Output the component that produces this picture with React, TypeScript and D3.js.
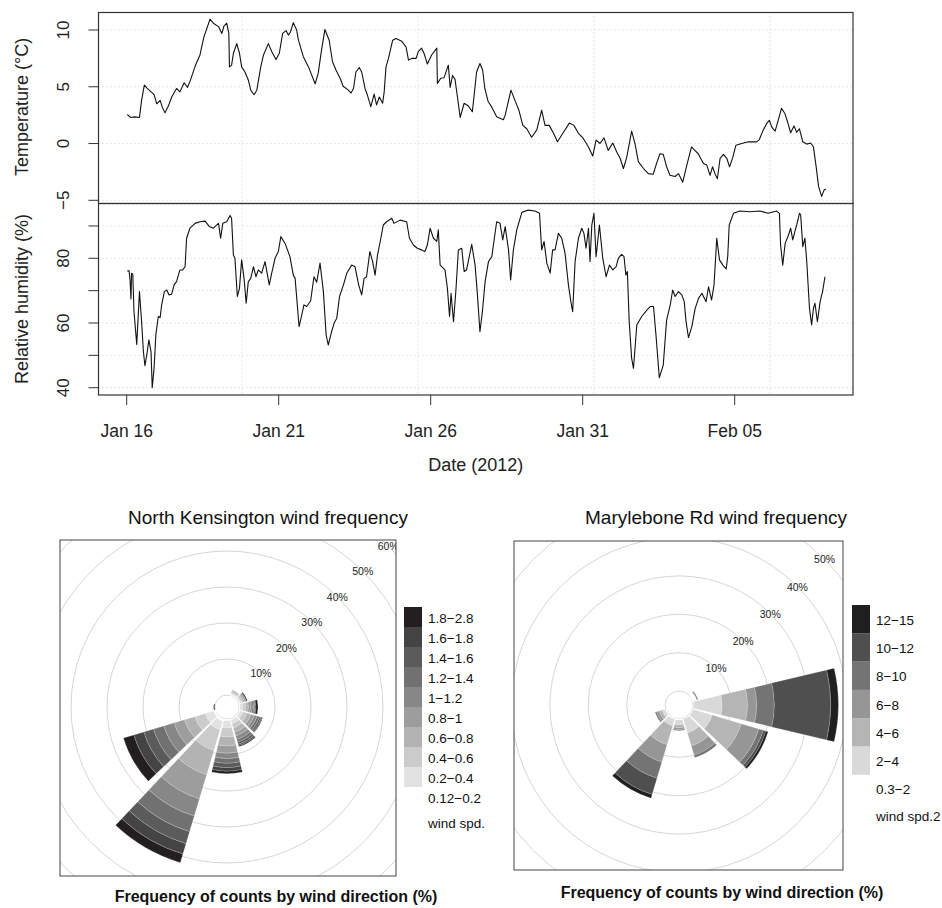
import React from "react";
import * as d3 from "d3";

// hourly series: [days since Jan 16 2012 00:00, value]
const temperature: [number, number][] = [
  [0.02, 2.56], [0.13, 2.3], [0.27, 2.35], [0.42, 2.3], [0.49, 3.8], [0.58, 5.15], [0.66, 4.9], [0.82, 4.5],
  [0.9, 4.3], [0.99, 3.5], [1.1, 3.8], [1.17, 3.2], [1.26, 2.7], [1.37, 3.3], [1.48, 4.1], [1.64, 4.85],
  [1.75, 4.55], [1.89, 5.35], [2.0, 4.95], [2.08, 5.45], [2.25, 6.8], [2.41, 7.8], [2.54, 9.4], [2.74, 10.95],
  [2.85, 10.6], [3.02, 10.3], [3.13, 9.7], [3.2, 10.35], [3.29, 10.6], [3.36, 9.7], [3.38, 6.75], [3.45, 6.9],
  [3.51, 7.95], [3.62, 8.8], [3.71, 7.95], [3.78, 6.75], [3.89, 6.3], [4.0, 5.6], [4.08, 4.7], [4.19, 4.3],
  [4.28, 4.7], [4.41, 6.75], [4.5, 7.8], [4.66, 8.8], [4.77, 8.1], [4.91, 7.4], [5.02, 7.95], [5.13, 9.7],
  [5.24, 9.95], [5.32, 9.55], [5.39, 9.85], [5.48, 10.65], [5.59, 10.0], [5.65, 9.1], [5.81, 7.65], [5.98, 6.75],
  [6.09, 6.0], [6.2, 5.25], [6.3, 6.2], [6.41, 8.25], [6.52, 10.05], [6.66, 9.1], [6.77, 7.2], [6.88, 6.5],
  [7.02, 5.75], [7.12, 5.05], [7.29, 4.7], [7.38, 4.45], [7.46, 4.85], [7.54, 6.3], [7.65, 6.7], [7.73, 6.3],
  [7.84, 4.85], [7.92, 4.25], [8.03, 3.25], [8.14, 4.35], [8.22, 3.4], [8.31, 4.1], [8.42, 3.55], [8.47, 4.55],
  [8.53, 6.75], [8.61, 7.5], [8.75, 9.1], [8.86, 9.25], [9.05, 9.0], [9.19, 8.5], [9.27, 7.35], [9.38, 7.5],
  [9.52, 7.5], [9.59, 8.1], [9.7, 8.4], [9.78, 7.95], [9.89, 7.0], [10.03, 7.8], [10.2, 8.4], [10.22, 5.3],
  [10.33, 5.75], [10.44, 5.8], [10.58, 6.9], [10.64, 4.95], [10.72, 6.0], [10.8, 5.65], [10.88, 4.1], [10.97, 2.3],
  [11.1, 3.55], [11.24, 3.3], [11.37, 2.8], [11.51, 6.3], [11.62, 7.05], [11.71, 6.45], [11.78, 4.85], [11.89, 3.7],
  [12.0, 3.25], [12.17, 2.35], [12.39, 2.1], [12.45, 2.5], [12.64, 4.7], [12.77, 3.8], [12.9, 2.95], [13.03, 1.6],
  [13.16, 1.3], [13.32, 0.55], [13.49, 1.2], [13.65, 2.95], [13.76, 1.6], [13.9, 1.6], [14.04, 0.9], [14.17, 0.15],
  [14.31, 0.75], [14.56, 1.8], [14.71, 1.6], [14.86, 0.9], [15.02, 0.45], [15.19, -0.3], [15.33, -1.1], [15.44, 0.3],
  [15.57, 0.0], [15.7, 0.5], [15.84, -0.6], [15.99, 0.05], [16.12, -0.75], [16.23, -1.3], [16.34, -2.2], [16.45, -1.2],
  [16.61, 1.1], [16.72, 0.0], [16.83, -1.6], [17.0, -2.2], [17.16, -2.65], [17.32, -2.7], [17.43, -1.75], [17.54, -0.9],
  [17.65, -0.95], [17.76, -2.05], [17.87, -2.8], [18.04, -2.9], [18.15, -2.65], [18.29, -3.4], [18.44, -1.75], [18.58, -0.3],
  [18.69, -0.6], [18.8, -0.9], [18.97, -1.75], [19.08, -1.9], [19.19, -2.8], [19.27, -2.05], [19.35, -2.65], [19.43, -3.1],
  [19.52, -1.3], [19.63, -0.95], [19.74, -1.3], [19.83, -2.05], [19.94, -1.2], [20.04, -0.15], [20.23, 0.0], [20.45, 0.15],
  [20.72, 0.15], [20.81, 0.35], [20.94, 1.2], [21.05, 1.75], [21.14, 2.05], [21.22, 1.45], [21.33, 1.1], [21.4, 1.75],
  [21.54, 3.1], [21.65, 2.65], [21.74, 1.9], [21.84, 0.95], [21.95, 1.55], [22.04, 1.0], [22.13, 1.3], [22.24, 0.15],
  [22.37, -0.05], [22.5, 0.05], [22.59, -0.3], [22.68, -2.05], [22.76, -3.8], [22.86, -4.65], [22.94, -4.1], [23.0, -4.0],
];

const humidity: [number, number][] = [
  [0.02, 76.1], [0.08, 76.1], [0.11, 73.3], [0.14, 67.4], [0.16, 75.4], [0.2, 75.1], [0.24, 63.5], [0.33, 53.4],
  [0.42, 69.7], [0.49, 60.4], [0.55, 51.1], [0.6, 46.8], [0.66, 50.1], [0.73, 54.8], [0.8, 51.1], [0.84, 40.0],
  [0.9, 46], [0.96, 56.5], [1.04, 62], [1.1, 61.7], [1.15, 65.6], [1.24, 69.7], [1.32, 70.2], [1.39, 68.7],
  [1.48, 68.9], [1.56, 71.8], [1.64, 72.8], [1.75, 76.4], [1.84, 76.4], [1.92, 77.4], [1.97, 86.2], [2.08, 89.3],
  [2.25, 90.8], [2.41, 91.3], [2.58, 91.5], [2.72, 89.8], [2.85, 89.3], [3.02, 90.8], [3.09, 86.2], [3.16, 90.8],
  [3.29, 91.3], [3.4, 93.2], [3.45, 92.4], [3.51, 81.0], [3.56, 80], [3.64, 68.2], [3.71, 70.7], [3.78, 79.5],
  [3.86, 73.8], [3.93, 66.1], [4.0, 72.8], [4.08, 73.8], [4.17, 77.4], [4.25, 74.3], [4.33, 76.4], [4.44, 75.4],
  [4.55, 79], [4.69, 71.8], [4.77, 75.4], [4.88, 80], [4.99, 82.1], [5.07, 86.7], [5.21, 84.6], [5.37, 80.5],
  [5.48, 74.8], [5.54, 73.8], [5.67, 58.9], [5.76, 62.5], [5.83, 65.6], [5.92, 65.1], [6.05, 66.8], [6.16, 74.3],
  [6.25, 72.6], [6.36, 78.5], [6.47, 69.7], [6.56, 56.3], [6.63, 53.2], [6.74, 57.3], [6.82, 59.9], [6.91, 61.5],
  [7.0, 68.2], [7.13, 71.8], [7.24, 75.4], [7.4, 77.9], [7.51, 77.4], [7.63, 71.8], [7.73, 68.7], [7.81, 73.8],
  [7.89, 74.3], [8.0, 82.1], [8.09, 79], [8.17, 74.8], [8.25, 81], [8.36, 86.2], [8.44, 90.3], [8.55, 91.3],
  [8.72, 92.4], [8.79, 90.8], [8.99, 91.8], [9.21, 91.3], [9.3, 86.2], [9.43, 84.1], [9.56, 83.1], [9.7, 82.6],
  [9.81, 82.1], [9.89, 84.1], [9.98, 89.3], [10.09, 86.2], [10.2, 85.2], [10.25, 88.8], [10.31, 77.9], [10.47, 76.4],
  [10.55, 70.7], [10.62, 62], [10.67, 69.2], [10.75, 60.4], [10.83, 70.2], [10.91, 82.6], [11.02, 83.1], [11.1, 75.9],
  [11.18, 76.4], [11.35, 84.3], [11.46, 77.9], [11.53, 69.7], [11.62, 57.3], [11.7, 63.5], [11.79, 72.8], [11.9, 79],
  [12.01, 80.5], [12.17, 91.3], [12.28, 90.8], [12.37, 85.7], [12.45, 89.8], [12.56, 82.6], [12.63, 73.3], [12.72, 82.6],
  [12.83, 88.8], [13.0, 94.2], [13.21, 94.9], [13.43, 94.6], [13.58, 93.9], [13.65, 82.6], [13.73, 85.2], [13.82, 78.5],
  [13.93, 75.4], [14.01, 82.6], [14.09, 82.6], [14.2, 87.7], [14.31, 86.2], [14.42, 81.5], [14.53, 71.8], [14.61, 66.6],
  [14.67, 63.5], [14.75, 79], [14.86, 86.2], [14.97, 89.3], [15.04, 87.7], [15.11, 83.1], [15.19, 89.3], [15.24, 79],
  [15.3, 90.3], [15.37, 93.9], [15.44, 80.5], [15.55, 90.3], [15.66, 80], [15.77, 74.3], [15.88, 77.9], [15.99, 76.4],
  [16.1, 77.4], [16.17, 80], [16.28, 81.2], [16.36, 80.5], [16.42, 74.8], [16.47, 75.9], [16.53, 60.4], [16.61, 49.1],
  [16.67, 46], [16.78, 59.4], [16.94, 62], [17.11, 64], [17.22, 65.1], [17.33, 65.1], [17.41, 56.3], [17.52, 43.1],
  [17.65, 47], [17.76, 60.9], [17.88, 65.6], [17.96, 70.2], [18.04, 68.2], [18.15, 69.7], [18.26, 68.7], [18.34, 66.6],
  [18.4, 60.4], [18.48, 55.5], [18.59, 58.9], [18.7, 64.5], [18.81, 67.6], [18.92, 69.2], [19.06, 66.6], [19.14, 71.2],
  [19.24, 67.1], [19.32, 71.8], [19.41, 86.2], [19.5, 79.5], [19.61, 77.9], [19.72, 76.7], [19.77, 80.5], [19.82, 90.3],
  [19.96, 93.9], [20.17, 94.6], [20.5, 94.4], [20.83, 94.6], [21.1, 93.9], [21.38, 94.6], [21.47, 93.9], [21.51, 84.1],
  [21.58, 77.9], [21.66, 84.6], [21.77, 87.2], [21.84, 89.3], [21.91, 85.7], [21.98, 88.3], [22.04, 90.3], [22.13, 93.9],
  [22.17, 93.4], [22.24, 83.6], [22.31, 86.2], [22.37, 79], [22.46, 64.5], [22.53, 59.4], [22.59, 64.5], [22.64, 66.1],
  [22.72, 60.4], [22.81, 66.6], [22.89, 69.7], [22.97, 74.3],
];

const dateTicks = [0, 5, 10, 15, 20];
const dateLabels = ["Jan 16", "Jan 21", "Jan 26", "Jan 31", "Feb 05"];
// R's grid() lands on round epoch seconds, not on the date ticks
const startSeconds = 1326672000;
const gridSeconds = [1327000000, 1327500000, 1328000000, 1328500000];
const tempTicks = [-5, 0, 5, 10];
const rhTicks = [40, 50, 60, 70, 80, 90];
const rhLabels = [40, 60, 80];

// wind roses: % of counts per 30 degree sector, split by speed class (low -> high)
const nkDirs = [30, 60, 90, 120, 150, 180, 210, 240, 270];
const nkBins = ["0.12\u22120.2", "0.2\u22120.4", "0.4\u22120.6", "0.6\u22120.8", "0.8\u22121", "1\u22121.2", "1.2\u22121.4", "1.4\u22121.6", "1.6\u22121.8", "1.8\u22122.8"];
const nkFreq = [
  [0.3, 0.3, 0.3, 0.2, 0.2, 0.1, 0.1, 0, 0, 0],
  [0.3, 0.4, 0.4, 0.3, 0.3, 0.2, 0.2, 0.1, 0.1, 0.3],
  [0.3, 0.8, 0.8, 0.7, 0.6, 0.5, 0.4, 0.3, 0.3, 0.6],
  [0.3, 1.0, 1.2, 1.1, 1.0, 0.8, 0.7, 0.5, 0.3, 0.1],
  [0.3, 1.2, 1.3, 1.2, 1.1, 1.0, 0.8, 0.6, 0.4, 0.3],
  [0.5, 2.0, 2.5, 2.5, 2.0, 1.5, 1.3, 1.2, 1.0, 0.7],
  [0.8, 2.5, 6.0, 7.0, 7.0, 5.0, 4.5, 3.5, 3.0, 2.5],
  [0.5, 2.5, 3.0, 3.0, 3.0, 3.0, 3.0, 2.8, 2.9, 3.0],
  [0.1, 0, 0, 0, 0, 0, 0, 0, 0, 0.3],
];
const nkColors = ["#ffffff", "#e2e2e2", "#cbcbcb", "#b3b3b3", "#9d9d9d", "#878787", "#717171", "#5b5b5b", "#444444", "#231f20"];
const nkRings = [0, 10, 20, 30, 40, 50, 60];

const mrDirs = [60, 90, 120, 150, 180, 210, 240];
const mrBins = ["0.3\u22122", "2\u22124", "4\u22126", "6\u22128", "8\u221210", "10\u221212", "12\u221215"];
const mrFreq = [
  [1.2, 0, 0, 0, 0, 0.2, 0.1],
  [0.2, 7.4, 6.6, 2.4, 4.6, 14.7, 2.0],
  [0.2, 5.2, 7.9, 4.8, 1.2, 0.7, 0.6],
  [0.2, 3.8, 3.5, 2.5, 0.7, 0, 0],
  [0.3, 1.2, 0.8, 0.5, 0.3, 0, 0],
  [0.3, 1.8, 5.1, 4.7, 4.4, 4.4, 1.0],
  [0.2, 0.8, 0.8, 0.7, 0.4, 0, 0],
];
const mrColors = ["#ffffff", "#d9d9d9", "#b5b5b5", "#969696", "#747474", "#4f4f4f", "#1f1f1f"];
const mrRings = [0, 10, 20, 30, 40, 50];

const FONT = "'Liberation Sans', Arial, Helvetica, sans-serif";

// panel geometry
const L = 98.5, R = 853, TOP = 12.5, MID = 203.5, BOT = 395;

const x = d3.scaleLinear().domain([0, 20]).range([126.7, 734.7]);
const yT = d3.scaleLinear().domain([-5, 10]).range([200.3, 30]);
const yH = d3.scaleLinear().domain([40, 80]).range([387.7, 258.3]);

function WindRose(props: any) {
  const { id, box, cx, cy, r0, k, rings, dirs, freq, colors, bins, legend, legendTitle, title, xlab } = props;
  const r = (p: number) => r0 + k * p;
  const arc = d3.arc();
  const half = (13.3 * Math.PI) / 180;
  const rad = (deg: number) => (deg * Math.PI) / 180;
  const n = colors.length;
  return (
    <g>
      <defs>
        <clipPath id={id}>
          <rect x={box.x} y={box.y} width={box.w} height={box.h} />
        </clipPath>
      </defs>
      <g clipPath={`url(#${id})`}>
        {rings.map((p: number) => (
          <circle key={p} cx={cx} cy={cy} r={r(p)} fill="none" stroke="#d6d6d6" strokeWidth={1} />
        ))}
        {dirs.map((d: number, i: number) => {
          let cum = 0;
          return freq[i].map((v: number, j: number) => {
            const a = cum;
            cum += v;
            if (v <= 0) return null;
            const path = arc({
              innerRadius: r(a),
              outerRadius: r(cum),
              startAngle: rad(d) - half,
              endAngle: rad(d) + half,
            } as any);
            return (
              <path key={`${d}-${j}`} d={path || ""} transform={`translate(${cx},${cy})`}
                fill={colors[j]} stroke="#ffffff" strokeOpacity={0.35} strokeWidth={0.5} />
            );
          });
        })}
        {rings.filter((p: number) => p > 0).map((p: number) => (
          <text key={p} x={cx + r(p) * Math.SQRT1_2} y={cy - r(p) * Math.SQRT1_2} fontSize={10.5}
            textAnchor="middle" dominantBaseline="central" fill="#222">{`${p}%`}</text>
        ))}
      </g>
      <rect x={box.x} y={box.y} width={box.w} height={box.h} fill="none" stroke="#444" strokeWidth={1} />
      {bins.map((b: string, j: number) => {
        const row = n - 1 - j;
        const yy = legend.y + row * legend.h;
        return (
          <g key={b}>
            <rect x={legend.x} y={yy} width={18} height={legend.h} fill={colors[j]} />
            <text x={legend.x + 24} y={yy + legend.h / 2 + 1} fontSize={13.5} dominantBaseline="central" fill="#111">{b}</text>
          </g>
        );
      })}
      <text x={legend.x + 24} y={legendTitle.y} fontSize={13.5} dominantBaseline="central" fill="#111">{legendTitle.text}</text>
      <text x={title.x} y={title.y} fontSize={19} textAnchor="middle" fill="#111">{title.text}</text>
      <text x={xlab.x} y={xlab.y} fontSize={16} fontWeight="bold" textAnchor="middle" fill="#111">
        Frequency of counts by wind direction (%)
      </text>
    </g>
  );
}

export default function App() {
  const tempLine = d3.line<[number, number]>().x((d) => x(d[0])).y((d) => yT(d[1]))(temperature) || "";
  const rhLine = d3.line<[number, number]>().x((d) => x(d[0])).y((d) => yH(d[1]))(humidity) || "";
  const gridDays = gridSeconds.map((s) => (s - startSeconds) / 86400);

  return (
    <svg width={942} height={908} fontFamily={FONT}
      style={{ position: "absolute", left: 0, top: 0, background: "#ffffff" }}>
      <rect width={942} height={908} fill="#ffffff" />

      {/* grids */}
      <g stroke="#cfcfcf" strokeWidth={1} strokeDasharray="1 3">
        {gridDays.map((d) => (
          <line key={d} x1={x(d)} x2={x(d)} y1={TOP} y2={BOT} />
        ))}
        {tempTicks.map((t) => (
          <line key={`t${t}`} x1={L} x2={R} y1={yT(t)} y2={yT(t)} />
        ))}
        {rhTicks.map((t) => (
          <line key={`h${t}`} x1={L} x2={R} y1={yH(t)} y2={yH(t)} />
        ))}
      </g>

      <path d={tempLine} fill="none" stroke="#111" strokeWidth={1.1} strokeLinejoin="round" />
      <path d={rhLine} fill="none" stroke="#111" strokeWidth={1.1} strokeLinejoin="round" />

      {/* frames */}
      <rect x={L} y={TOP} width={R - L} height={MID - TOP} fill="none" stroke="#333" strokeWidth={1.2} />
      <rect x={L} y={MID} width={R - L} height={BOT - MID} fill="none" stroke="#333" strokeWidth={1.2} />

      {/* temperature axis */}
      {tempTicks.map((t) => (
        <g key={t}>
          <line x1={L - 10} x2={L} y1={yT(t)} y2={yT(t)} stroke="#333" />
          <text transform={`translate(${63},${yT(t)}) rotate(-90)`} fontSize={17} textAnchor="middle"
            dominantBaseline="central" fill="#222">{t < 0 ? `\u2212${-t}` : t}</text>
        </g>
      ))}
      <text transform={`translate(22,${107}) rotate(-90)`} fontSize={18} textAnchor="middle"
        dominantBaseline="central" fill="#222">Temperature (°C)</text>

      {/* humidity axis */}
      {rhTicks.map((t) => (
        <line key={t} x1={L - 10} x2={L} y1={yH(t)} y2={yH(t)} stroke="#333" />
      ))}
      {rhLabels.map((t) => (
        <text key={t} transform={`translate(${63},${yH(t)}) rotate(-90)`} fontSize={17} textAnchor="middle"
          dominantBaseline="central" fill="#222">{t}</text>
      ))}
      <text transform={`translate(22,${299}) rotate(-90)`} fontSize={18} textAnchor="middle"
        dominantBaseline="central" fill="#222">Relative humidity (%)</text>

      {/* date axis */}
      {dateTicks.map((d, i) => (
        <g key={d}>
          <line x1={x(d)} x2={x(d)} y1={BOT} y2={BOT + 10} stroke="#333" />
          <text x={x(d)} y={437} fontSize={17.5} textAnchor="middle" fill="#222">{dateLabels[i]}</text>
        </g>
      ))}
      <text x={(L + R) / 2} y={471} fontSize={18} textAnchor="middle" fill="#222">Date (2012)</text>

      <WindRose
        id="clipNK"
        box={{ x: 60, y: 540, w: 336, h: 336 }}
        cx={227} cy={707} r0={12} k={3.6}
        rings={nkRings} dirs={nkDirs} freq={nkFreq} colors={nkColors} bins={nkBins}
        legend={{ x: 404, y: 607, h: 20 }}
        legendTitle={{ text: "wind spd.", y: 823 }}
        title={{ text: "North Kensington wind frequency", x: 268, y: 524 }}
        xlab={{ x: 276, y: 902 }}
      />
      <WindRose
        id="clipMR"
        box={{ x: 514, y: 541, w: 329, h: 329 }}
        cx={679} cy={705} r0={13.9} k={3.84}
        rings={mrRings} dirs={mrDirs} freq={mrFreq} colors={mrColors} bins={mrBins}
        legend={{ x: 852, y: 605, h: 28.3 }}
        legendTitle={{ text: "wind spd.2", y: 816 }}
        title={{ text: "Marylebone Rd wind frequency", x: 716, y: 524 }}
        xlab={{ x: 722, y: 898 }}
      />
    </svg>
  );
}
